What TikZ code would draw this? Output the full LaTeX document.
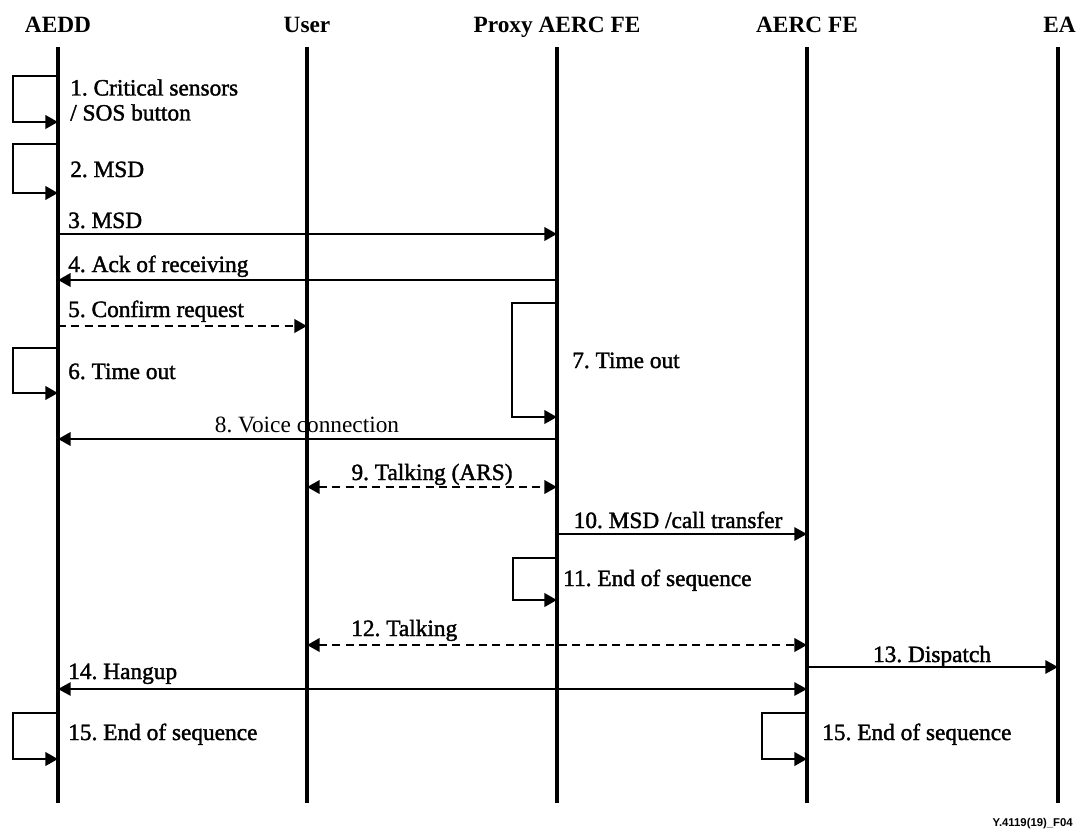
\documentclass[tikz,border=0pt]{standalone}
\usepackage{fontspec}
\setmainfont{Liberation Serif}
\setsansfont{Liberation Sans}
\newfontfamily\lblfont{Liberation Serif}[FakeBold=1.6]
\usetikzlibrary{arrows.meta}
\frenchspacing
\begin{document}
\frenchspacing
\begin{tikzpicture}[x=0.75pt,y=-0.75pt,
  tip/.tip={Triangle[length=9.5pt,width=10pt]},
  life/.style={line width=3.3pt},
  msg/.style={line width=2pt,-tip},
  thinmsg/.style={line width=1.3pt},
  dmsg/.style={line width=2.1pt,dash pattern=on 6pt off 4pt},
  selfloop/.style={line width=2.2pt,-tip},
  hdr/.style={font=\fontsize{17.5}{20}\selectfont\bfseries,inner sep=0pt,anchor=base},
  lbl/.style={font=\lblfont\fontsize{17.5}{18.75}\selectfont,inner sep=0pt,anchor=base west},
  clbl/.style={lbl,anchor=base}
]
\useasboundingbox (0,0) rectangle (1077,829);
% headers
\node[hdr] (hAEDD) at (58,32) {AEDD};
\node[hdr] (hUSER) at (307,32) {User};
\node[hdr] (hPROXY) at (557,32) {Proxy AERC FE};
\node[hdr] (hAERC) at (807,32) {AERC FE};
\node[hdr,anchor=base east] (hEA) at (1076,32) {EA};
% lifeline tops and bottoms
\coordinate (AEDD) at (58,47);
\coordinate (USER) at (307,47);
\coordinate (PROXY) at (557,47);
\coordinate (AERC) at (807,47);
\coordinate (EA) at (1058,47);
\coordinate (bottom) at (0,803);
% message levels
\coordinate (y1a) at (0,76);   \coordinate (y1b) at (0,122);
\coordinate (y2a) at (0,144);  \coordinate (y2b) at (0,193);
\coordinate (y3) at (0,234);
\coordinate (y4) at (0,280);
\coordinate (y5) at (0,326);
\coordinate (y6a) at (0,348);  \coordinate (y6b) at (0,393);
\coordinate (y7a) at (0,303);  \coordinate (y7b) at (0,417);
\coordinate (y8) at (0,439);
\coordinate (y9) at (0,487);
\coordinate (y10) at (0,534);
\coordinate (y11a) at (0,558); \coordinate (y11b) at (0,600);
\coordinate (y12) at (0,645);
\coordinate (y13) at (0,667);
\coordinate (y14) at (0,689);
\coordinate (y15a) at (0,713); \coordinate (y15b) at (0,759);
% self loops
\draw[selfloop] (AEDD |- y1a) -- ++(-45,0) -- ++(0,46) -- (AEDD |- y1b);
\draw[selfloop] (AEDD |- y2a) -- ++(-45,0) -- ++(0,49) -- (AEDD |- y2b);
\draw[selfloop] (AEDD |- y6a) -- ++(-45,0) -- ++(0,45) -- (AEDD |- y6b);
\draw[selfloop] (PROXY |- y7a) -- ++(-45,0) -- ++(0,114) -- (PROXY |- y7b);
\draw[selfloop] (PROXY |- y11a) -- ++(-44,0) -- ++(0,42) -- (PROXY |- y11b);
\draw[selfloop] (AEDD |- y15a) -- ++(-45,0) -- ++(0,46) -- (AEDD |- y15b);
\draw[selfloop] (AERC |- y15a) -- ++(-45,0) -- ++(0,46) -- (AERC |- y15b);
% messages
\draw[msg] (AEDD |- y3) -- (PROXY |- y3);
\draw[msg] (PROXY |- y4) -- (AEDD |- y4);
\draw[msg,dmsg] (AEDD |- y5) -- (USER |- y5);
\draw[msg] (PROXY |- y8) -- (AEDD |- y8);
\draw[msg,dmsg,tip-tip] (USER |- y9) -- (PROXY |- y9);
\draw[msg,thinmsg] (PROXY |- y10) -- (AERC |- y10);
\draw[msg,dmsg,tip-tip] (USER |- y12) -- (AERC |- y12);
\draw[msg,thinmsg] (AERC |- y13) -- (EA |- y13);
\draw[msg,thinmsg,tip-tip] (AEDD |- y14) -- (AERC |- y14);
% lifelines
\foreach \l in {AEDD,USER,PROXY,AERC,EA}
  \draw[life] (\l) -- (\l |- bottom);
% labels
\node[lbl,anchor=north west,align=left] (l1) at (70,79) {1. Critical sensors\\/ SOS button};
\node[lbl] (l2) at (70,177) {2. MSD};
\node[lbl] (l3) at (68,228) {3. MSD};
\node[lbl] (l4) at (68,272) {4. Ack of receiving};
\node[lbl] (l5) at (68,317) {5. Confirm request};
\node[lbl] (l6) at (68,379) {6. Time out};
\node[lbl] (l7) at (572,368) {7. Time out};
\node[clbl,font=\fontsize{17.5}{20}\selectfont] (l8) at (307,432) {8. Voice connection};
\node[clbl] (l9) at (432,480) {9. Talking (ARS)};
\node[clbl] (l10) at (678,528) {10. MSD /call transfer};
\node[lbl] (l11) at (563,586) {11. End of sequence};
\node[lbl] (l12) at (351,636) {12. Talking};
\node[clbl] (l13) at (932,662) {13. Dispatch};
\node[lbl] (l14) at (68,679) {14. Hangup};
\node[lbl] (l15a) at (68,740) {15. End of sequence};
\node[lbl] (l15b) at (822,740) {15. End of sequence};
\node[font=\sffamily\bfseries\fontsize{8.5}{10}\selectfont,inner sep=0pt,anchor=base east] (fig) at (1073,826) {Y.4119(19)\_F04};
\end{tikzpicture}
\end{document}
